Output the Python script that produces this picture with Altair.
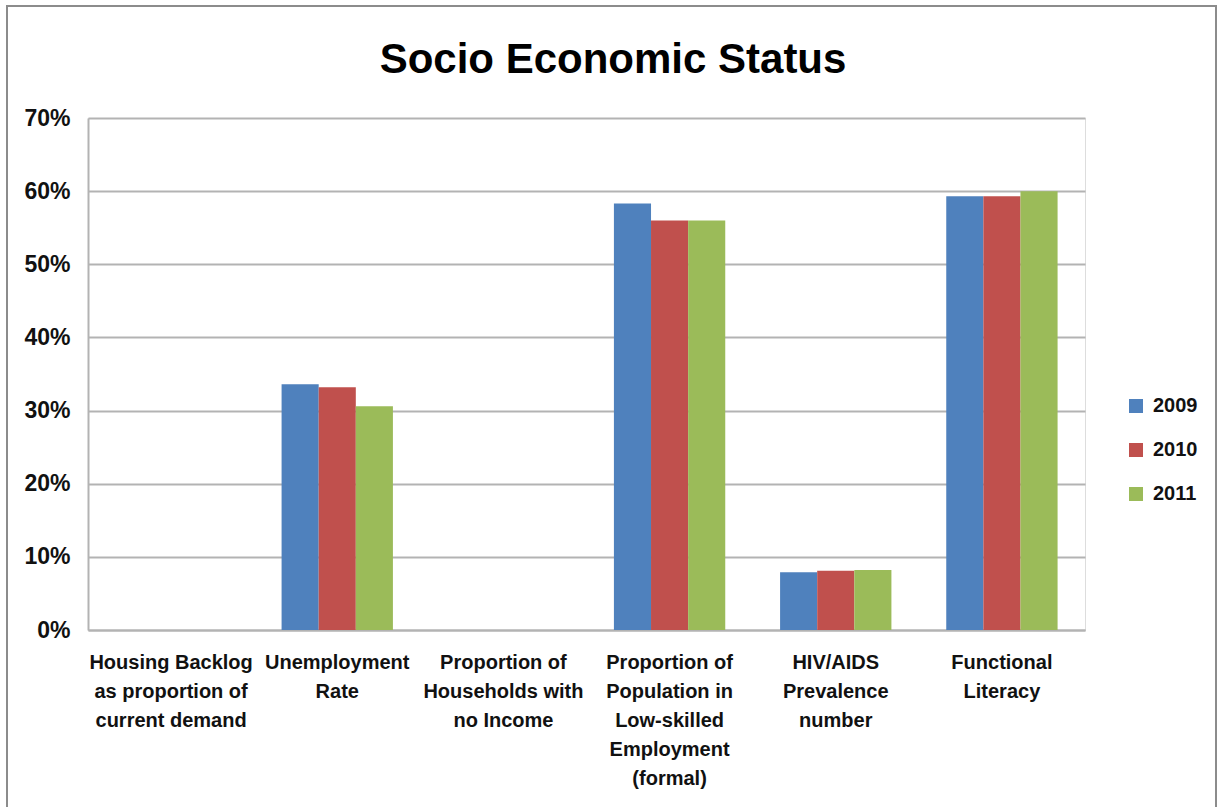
import altair as alt
import pandas as pd

# Indicator names (line breaks marked with "|")
categories = [
    "Housing Backlog|as proportion of|current demand",
    "Unemployment|Rate",
    "Proportion of|Households with|no Income",
    "Proportion of|Population in|Low-skilled|Employment|(formal)",
    "HIV/AIDS|Prevalence|number",
    "Functional|Literacy",
]
years = ["2009", "2010", "2011"]

# Percent values per year (None = no data reported)
values_2009 = [None, 33.6, None, 58.3, 7.9, 59.3]
values_2010 = [None, 33.2, None, 56.0, 8.1, 59.3]
values_2011 = [None, 30.6, None, 56.0, 8.2, 60.0]

colors = ["#4F81BD", "#C0504D", "#9BBB59"]
y_ticks = [0, 0.1, 0.2, 0.3, 0.4, 0.5, 0.6, 0.7]
title_text = "Socio Economic Status"

rows = []
for year, vals in zip(years, [values_2009, values_2010, values_2011]):
    for cat, v in zip(categories, vals):
        rows.append({"category": cat, "year": year,
                     "value": None if v is None else v / 100})
df = pd.DataFrame(rows)

FONT = "Liberation Sans"

bars = alt.Chart(df).mark_bar().encode(
    x=alt.X(
        "category:N",
        sort=categories,
        scale=alt.Scale(paddingInner=0.33, paddingOuter=0.165),
        axis=alt.Axis(
            title=None,
            labelAngle=0,
            labelExpr="split(datum.label, '|')",
            labelFont=FONT,
            labelFontSize=20,
            labelFontWeight="bold",
            labelColor="#111111",
            labelLineHeight=29,
            labelPadding=22,
            labelBaseline="top",
            labelLimit=300,
            ticks=False,
            domainColor="#B3B3B3",
            domainWidth=2,
        ),
    ),
    xOffset=alt.XOffset("year:N", sort=years,
                        scale=alt.Scale(paddingInner=0, paddingOuter=0)),
    y=alt.Y(
        "value:Q",
        scale=alt.Scale(domain=[0, 0.7], nice=False),
        axis=alt.Axis(
            title=None,
            values=y_ticks,
            format=".0%",
            labelFont=FONT,
            labelFontSize=23,
            labelFontWeight="bold",
            labelColor="#111111",
            labelPadding=18,
            ticks=False,
            domainColor="#B3B3B3",
            domainWidth=2,
            gridColor="#B3B3B3",
            gridWidth=2,
        ),
    ),
    color=alt.Color(
        "year:N",
        sort=years,
        scale=alt.Scale(domain=years, range=colors),
        legend=alt.Legend(
            title=None,
            orient="none",
            legendX=1038,
            legendY=278,
            symbolType="square",
            symbolSize=196,
            symbolStrokeWidth=0,
            labelFont=FONT,
            labelFontSize=20,
            labelFontWeight="bold",
            labelColor="#111111",
            labelOffset=7,
            rowPadding=24,
        ),
    ),
)

# Outer chart border
frame = alt.Chart(alt.Data(values=[{}])).mark_rect(
    fillOpacity=0, stroke="#8C8C8C", strokeWidth=2
).encode(
    x=alt.value(-81), x2=alt.value(1128),
    y=alt.value(-112), y2=alt.value(720),
)

# Chart heading, centred across the whole figure
heading = alt.Chart(alt.Data(values=[{}])).mark_text(
    font=FONT, fontSize=42, fontWeight="bold", color="#000000",
    align="center", baseline="middle",
).encode(
    x=alt.value(525), y=alt.value(-58), text=alt.value(title_text),
)

chart = alt.layer(frame, heading, bars).properties(
    width=997,
    height=512,
    padding={"left": 88, "top": 118, "right": 133, "bottom": 177},
    autosize=alt.AutoSizeParams(type="none"),
).configure_view(stroke=None).configure(background="white")

chart.save("out.html", embed_options={"renderer": "svg", "actions": False})
